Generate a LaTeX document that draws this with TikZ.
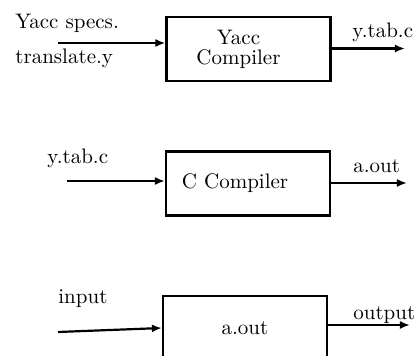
\documentclass[tikz,border=0pt]{standalone}
\usetikzlibrary{arrows.meta}
\begin{document}
\begin{tikzpicture}[x=0.5pt, y=-0.5pt, font=\fontsize{10.5}{12}\selectfont,
  box/.style={draw, line width=1.1pt, minimum width=82pt, minimum height=32pt, inner sep=0pt},
  flow/.style={line width=1.1pt, -{Latex[length=5pt,width=4pt]}},
  lbl/.style={anchor=base west, inner sep=0pt}]
\useasboundingbox (0,0) rectangle (414,355);
% yacc stage
\node[box, align=center] (yacc) at (248.5,49) {Yacc\hspace*{10pt}\\[-2pt]Compiler\hspace*{10pt}};
\coordinate (yin) at (58,43);
\coordinate (yout) at (405,48.5);
\draw[flow] (yin) -- (yin -| yacc.west);
\draw[flow] (yacc.east |- yout) -- (yout);
\node[lbl] (yspec) at (15,28) {Yacc specs.};
\node[lbl] (yfile) at (15,63) {translate.y};
\node[lbl] (ytab) at (352,37) {y.tab.c};
% c compiler stage
\node[box, text width=66pt, align=left, inner xsep=8pt] (ccomp) at (248,183.5) {C Compiler};
\coordinate (cin) at (67,181);
\coordinate (cout) at (407,183);
\draw[flow] (cin) -- (cin -| ccomp.west);
\draw[flow] (ccomp.east |- cout) -- (cout);
\node[lbl] (cfile) at (47,163) {y.tab.c};
\node[lbl] (cobj) at (353,172.5) {a.out};
% run stage
\node[box] (run) at (245,328) {a.out};
\coordinate (rin) at (58,332);
\coordinate (rout) at (410,325);
\draw[flow] (rin) -- (run.west);
\draw[flow] (run.east |- rout) -- (rout);
\node[lbl] (rinput) at (58,303) {input};
\node[lbl] (routput) at (353,319) {output};
\end{tikzpicture}
\end{document}
